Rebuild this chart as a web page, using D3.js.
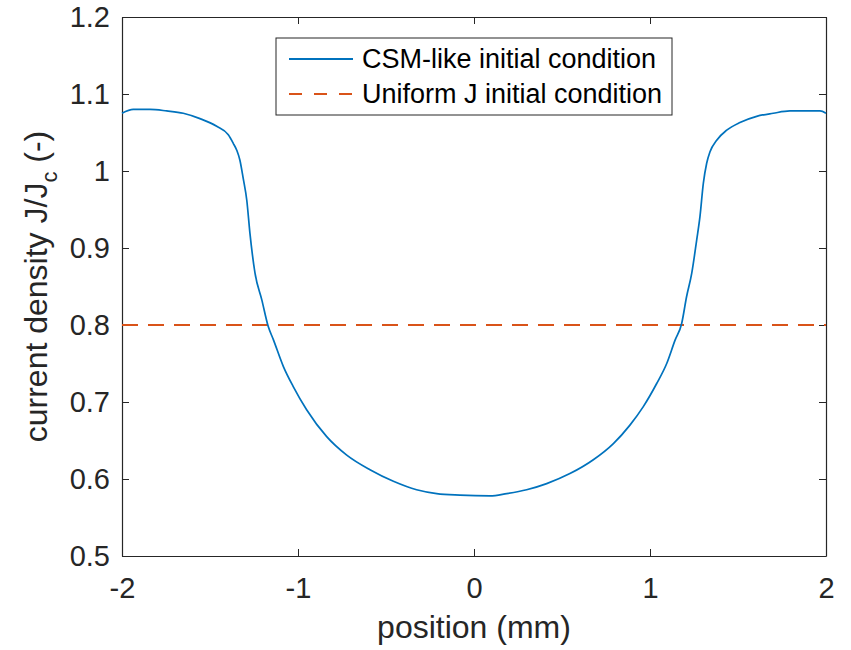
<!DOCTYPE html>
<html>
<head>
<meta charset="utf-8">
<script src="https://cdn.jsdelivr.net/npm/d3@7"></script>
<style>
  body { margin: 0; background: #fff; }
  svg { display: block; font-family: "Liberation Sans", Arial, Helvetica, sans-serif; }
</style>
</head>
<body>
<svg class="chart"></svg>
<script>
// positions (mm)
const positions = [
    -2.000, -1.936, -1.841, -1.746, -1.652, -1.557, -1.462, -1.396, -1.368, -1.348,
    -1.330, -1.311, -1.291, -1.273, -1.244, -1.206, -1.169, -1.140, -1.083, -1.027,
    -0.951, -0.837, -0.723, -0.591, -0.458, -0.326, -0.212, -0.080, 0.091, 0.186,
    0.299, 0.413, 0.545, 0.678, 0.792, 0.886, 0.962, 1.038, 1.095, 1.142,
    1.180, 1.208, 1.237, 1.265, 1.284, 1.303, 1.322, 1.341, 1.379, 1.436,
    1.511, 1.606, 1.700, 1.795, 1.890, 1.966, 2.000
];
// CSM-like initial condition, J/Jc
const csmValues = [
    1.075, 1.080, 1.080, 1.078, 1.075, 1.068, 1.058, 1.047, 1.036, 1.027,
    1.014, 0.990, 0.962, 0.919, 0.867, 0.833, 0.798, 0.781, 0.746, 0.720,
    0.690, 0.655, 0.631, 0.612, 0.597, 0.586, 0.581, 0.579, 0.578, 0.581,
    0.586, 0.594, 0.607, 0.625, 0.646, 0.670, 0.694, 0.724, 0.750, 0.780,
    0.802, 0.837, 0.867, 0.910, 0.941, 0.984, 1.010, 1.025, 1.040, 1.053,
    1.063, 1.071, 1.075, 1.078, 1.078, 1.078, 1.075
];
// Uniform J initial condition
const uniformPositions = [-2, 2];
const uniformValues = [0.8, 0.8];

const xTicks = [-2, -1, 0, 1, 2];
const yTicks = [0.5, 0.6, 0.7, 0.8, 0.9, 1, 1.1, 1.2];
const seriesNames = ["CSM-like initial condition", "Uniform J initial condition"];

function makeChart() {
    const svgWidth = 851,
        svgHeight = 650;
    const margin = { top: 17, right: 25, bottom: 94, left: 122 };
    const width = svgWidth - margin.left - margin.right;
    const height = svgHeight - margin.top - margin.bottom;
    const ink = "#262626";
    const blue = "#0072BD", orange = "#D95319";

    const canvas = d3.select(".chart")
        .attr("width", svgWidth)
        .attr("height", svgHeight);

    const plotArea = canvas.append("g")
        .attr("transform", `translate(${margin.left},${margin.top})`);

    // Scales
    const x = d3.scaleLinear().domain([-2, 2]).range([0, width]);
    const y = d3.scaleLinear().domain([0.5, 1.2]).range([height, 0]);

    // Axes (ticks pointing inward, box all round)
    const xAxis = plotArea.append("g")
        .attr("transform", `translate(0,${height})`)
        .call(d3.axisBottom(x).tickValues(xTicks).tickSize(-7).tickSizeOuter(0)
            .tickPadding(21).tickFormat(d => String(d)));
    const yAxis = plotArea.append("g")
        .call(d3.axisLeft(y).tickValues(yTicks).tickSize(-7).tickSizeOuter(0)
            .tickPadding(12).tickFormat(d3.format("~g")));
    const xTop = plotArea.append("g")
        .call(d3.axisTop(x).tickValues(xTicks).tickSize(-7).tickSizeOuter(0).tickFormat(""));
    const yRight = plotArea.append("g")
        .attr("transform", `translate(${width},0)`)
        .call(d3.axisRight(y).tickValues(yTicks).tickSize(-7).tickSizeOuter(0).tickFormat(""));

    [xAxis, yAxis, xTop, yRight].forEach(a => {
        a.select(".domain").attr("stroke", ink).attr("stroke-width", 1.2);
        a.selectAll(".tick line").attr("stroke", ink).attr("stroke-width", 1);
        a.selectAll(".tick text").attr("fill", ink).style("font-size", "29px");
    });

    // Lines
    const line = d3.line()
        .x(d => x(d[0]))
        .y(d => y(d[1]))
        .curve(d3.curveMonotoneX);

    plotArea.append("path")
        .datum(d3.zip(uniformPositions, uniformValues))
        .attr("fill", "none")
        .attr("stroke", orange)
        .attr("stroke-width", 1.8)
        .attr("stroke-dasharray", "16,10")
        .attr("d", line);

    plotArea.append("path")
        .datum(d3.zip(positions, csmValues))
        .attr("fill", "none")
        .attr("stroke", blue)
        .attr("stroke-width", 1.7)
        .attr("stroke-linejoin", "round")
        .attr("d", line);

    // Axis labels
    canvas.append("text")
        .attr("x", margin.left + width / 2)
        .attr("y", 638)
        .attr("text-anchor", "middle")
        .attr("fill", ink)
        .style("font-size", "32px")
        .text("position (mm)");

    const yLabel = canvas.append("text")
        .attr("transform", `translate(47,${margin.top + height / 2}) rotate(-90)`)
        .attr("text-anchor", "middle")
        .attr("fill", ink)
        .style("font-size", "32px");
    yLabel.append("tspan").text("current density J/J");
    yLabel.append("tspan").attr("dy", 10).style("font-size", "22px").text("c");
    yLabel.append("tspan").attr("dy", -10).text(" (-)");

    // Legend
    const legend = canvas.append("g").attr("transform", "translate(276,38)");
    legend.append("rect")
        .attr("width", 396)
        .attr("height", 77)
        .attr("fill", "#fff")
        .attr("stroke", ink)
        .attr("stroke-width", 1);
    const rows = [
        { name: seriesNames[0], color: blue, dash: null, cy: 21 },
        { name: seriesNames[1], color: orange, dash: "13,12", cy: 56 }
    ];
    rows.forEach(r => {
        legend.append("line")
            .attr("x1", 13).attr("x2", 77)
            .attr("y1", r.cy).attr("y2", r.cy)
            .attr("stroke", r.color)
            .attr("stroke-width", 1.8)
            .attr("stroke-dasharray", r.dash);
        legend.append("text")
            .attr("x", 86)
            .attr("y", r.cy)
            .attr("dy", "0.35em")
            .attr("fill", "#000")
            .style("font-size", "27px")
            .text(r.name);
    });
}

makeChart();
</script>
</body>
</html>
